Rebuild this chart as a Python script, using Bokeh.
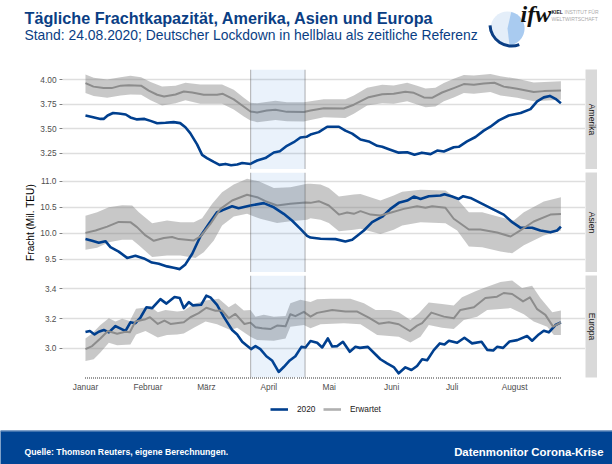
from bokeh.embed import file_html
from bokeh.resources import INLINE
from bokeh.plotting import figure
from bokeh.layouts import column, row
from bokeh.models import (Range1d, FixedTicker, BoxAnnotation, Span, Label, Legend, LegendItem)
import math

# ---------- axis content ----------
month_days = [0, 31, 60, 91, 121, 152, 182, 213]
month_labels = ["Januar", "Februar", "März", "April", "Mai", "Juni", "Juli", "August"]
all_days = list(range(0, 237))
lockdown = [82, 109]
regions = ["Amerika", "Asien", "Europa"]
legend_labels = ["2020", "Erwartet"]
am_ticks = [3.25, 3.5, 3.75, 4.0]
as_ticks = [9.5, 10.0, 10.5, 11.0]
eu_ticks = [3.0, 3.2, 3.4]

# ---------- Amerika ----------
am_d = [0,3.3,7.4,9,11,13.7,16.5,20,22.3,25.6,29.3,32.3,35.6,39.7,43.8,47,49.6,52,55.4,57.9,60.3,63.7,66.5,69.5,72.3,75.3,77.8,81.9,85.2,89.3,93.5,96.5,100,103.4,106.7,109.7,111.7,115.8,120,125.8,129,132.4,136.5,140.6,144.8,147.3,150.6,155.5,159.7,163.3,167,171.3,174.6,177.9,182.8,185.3,189.4,193.6,197.7,201,205.2,210.1,216,220.9,224.2,227.5,230.5,233.3,236]
am_v = [3.635,3.62,3.60,3.60,3.635,3.66,3.655,3.645,3.615,3.595,3.60,3.58,3.555,3.56,3.567,3.557,3.515,3.455,3.34,3.233,3.20,3.16,3.13,3.14,3.127,3.134,3.15,3.14,3.175,3.20,3.257,3.27,3.325,3.362,3.41,3.417,3.44,3.465,3.52,3.52,3.48,3.45,3.39,3.37,3.325,3.315,3.29,3.255,3.26,3.233,3.255,3.24,3.277,3.267,3.31,3.315,3.37,3.415,3.48,3.52,3.585,3.635,3.66,3.70,3.78,3.82,3.835,3.805,3.76]
am_ed = [0,4,9,13,17.5,21.5,27.6,31.4,35.6,39,44.7,48.8,53,58.7,65.3,68.2,73.6,77.8,81.9,85.2,90,94.3,100,108.4,111.7,118.3,128.2,133.2,140.6,147.3,153,158.8,163,168,172,177,182.8,187.8,192.8,197.7,203,207.6,214.3,222.5,227.5,236]
am_ev = [3.966,3.93,3.915,3.915,3.94,3.945,3.94,3.89,3.847,3.83,3.85,3.88,3.87,3.847,3.847,3.857,3.80,3.737,3.676,3.666,3.686,3.693,3.672,3.67,3.686,3.71,3.707,3.745,3.822,3.853,3.857,3.877,3.867,3.82,3.816,3.87,3.915,3.956,3.95,3.962,3.97,3.93,3.908,3.874,3.884,3.89]
am_bd = [0,4.1,10.8,17.4,22.3,27.6,32.3,38,44.7,49.6,57,67.8,73.6,78.6,81.9,85.2,94.3,100,108.4,111.7,118.3,129,133.2,139.8,147.3,153,159.7,164.6,168.8,173.7,177.9,182.8,187.8,192.8,201,206,214.3,222.5,236]
am_hi = [4.055,4.02,4.003,4.027,4.04,4.027,3.976,3.93,3.94,3.97,3.952,3.952,3.898,3.816,3.765,3.76,3.785,3.77,3.77,3.78,3.80,3.80,3.84,3.918,3.95,3.942,3.97,3.94,3.91,3.918,3.966,4.01,4.05,4.044,4.06,4.037,4.01,3.973,3.986]
am_lo = [3.864,3.833,3.816,3.84,3.85,3.847,3.79,3.737,3.76,3.79,3.755,3.755,3.697,3.625,3.584,3.567,3.59,3.577,3.574,3.59,3.618,3.61,3.652,3.737,3.76,3.755,3.78,3.748,3.72,3.727,3.78,3.82,3.864,3.857,3.874,3.84,3.816,3.78,3.795]

# ---------- Asien ----------
as_d = [0,3.3,6.6,9.9,12.4,16.5,20.7,24.8,29,33,36.4,40.5,43.8,46.8,49.6,53,57,61.2,65.3,67.8,72.8,76,81.9,88.5,93.5,98.4,102.5,106.7,110,111.7,116.7,124.1,129,132.4,138.2,142.3,147.3,151.4,155.5,159.7,163,166.3,170.4,176.2,178.2,182,185.3,187.5,191.1,196,201.9,207.6,211.8,216,221.7,225.8,230.8,234.1,236]
as_v = [9.89,9.857,9.82,9.85,9.735,9.65,9.53,9.57,9.52,9.44,9.417,9.367,9.34,9.315,9.405,9.61,9.94,10.18,10.406,10.44,10.52,10.483,10.534,10.58,10.50,10.375,10.247,10.087,9.953,9.92,9.896,9.89,9.845,9.877,10.055,10.215,10.32,10.47,10.585,10.63,10.706,10.66,10.713,10.726,10.75,10.706,10.66,10.713,10.68,10.585,10.47,10.36,10.215,10.107,10.107,10.055,10.02,10.055,10.13]
as_ed = [0,5,10.8,16.5,22.3,25.6,29.8,33.9,38.9,43,46.3,53.8,57,62,67,72.8,80.2,85.2,89.3,95.1,101.7,109.2,111.7,115.8,120.8,125.8,129.9,133.2,136.5,141.5,146.4,152.2,158,164.6,168.8,172.1,178.7,182.8,190.3,196,204.3,211,215.1,222.5,230.8,236]
as_ev = [10.01,10.055,10.13,10.22,10.215,10.12,9.96,9.857,9.91,9.93,9.89,9.864,9.94,10.18,10.47,10.63,10.74,10.694,10.617,10.534,10.566,10.59,10.585,10.617,10.534,10.36,10.4,10.375,10.426,10.36,10.343,10.406,10.47,10.52,10.49,10.52,10.49,10.28,10.075,10.075,10.017,9.94,10.04,10.228,10.36,10.37]
as_hd = [0,5.8,11.6,18.2,23.2,26.5,33.1,40.5,47.1,53.8,57.9,62.9,67.8,73.6,80.2,86,93.5,101.7,110,111.7,116.7,120.8,125.8,133.2,136.5,146.4,153,157.2,166.3,178.7,184.5,190.3,196.9,206,212.6,217.6,227.5,236]
as_hi = [10.336,10.406,10.50,10.54,10.534,10.406,10.196,10.247,10.215,10.215,10.29,10.566,10.79,10.936,11.045,11.0,10.87,10.885,10.95,10.95,10.936,10.87,10.706,10.745,10.757,10.63,10.726,10.80,10.834,10.82,10.66,10.406,10.406,10.31,10.247,10.406,10.61,10.694]
as_ld = [0,5.8,11.6,18.2,23.2,26.5,33.1,40.5,47.1,54.6,58.7,63.7,67.8,73.6,80.2,86.8,95.1,101.7,110,111.7,116.7,120.8,125.8,133.2,136.5,146.4,153,157.2,166.3,178.7,184.5,190.3,196.9,206,211.8,217.6,227.5,236]
as_lo = [9.685,9.724,9.83,9.877,9.877,9.77,9.545,9.577,9.577,9.53,9.64,9.864,10.15,10.324,10.375,10.28,10.2,10.234,10.26,10.29,10.26,10.2,10.04,10.07,10.087,9.99,10.07,10.15,10.215,10.196,10.055,9.75,9.736,9.653,9.62,9.77,9.96,10.055]

# ---------- Europa ----------
eu_d = [0,2.2,4.5,6.6,9.1,11.6,14.9,18.2,19.9,22.3,24.8,27.3,30.3,33.1,37.2,40.2,44.2,46.8,48.8,51.3,53.4,57.4,60,62,65.3,68.6,72.8,75.3,77.8,80.2,82.2,84.4,86.8,89.8,92.6,95.9,98.4,101.4,104.2,107.2,109.2,111.7,115,117.5,120.3,122.5,125,127.8,131.2,134,136.2,140.2,144,146.4,149.7,153,155.5,158.8,161.8,164.6,167.1,169.6,172.9,175.9,178.2,180.4,184.5,188.1,191.9,196.6,199.4,202.4,204.3,207.3,210.5,214.3,219.2,221.7,225,227.5,230,233.3,236]
eu_v = [3.11,3.117,3.094,3.112,3.124,3.108,3.15,3.128,3.117,3.175,3.169,3.207,3.276,3.27,3.33,3.30,3.344,3.337,3.27,3.31,3.288,3.292,3.353,3.342,3.292,3.213,3.124,3.094,3.045,3.018,2.996,3.016,2.996,2.948,2.92,2.843,2.876,2.92,2.948,3.011,3.007,3.05,3.038,3.007,3.067,3.013,3.016,3.045,2.978,3.011,3.004,3.011,2.96,2.928,2.9,2.876,2.834,2.874,2.856,2.883,2.928,2.921,2.989,3.034,3.027,3.052,3.038,3.072,3.034,3.045,2.991,2.987,3.011,3.004,3.047,3.056,3.083,3.052,3.094,3.119,3.108,3.157,3.175]
eu_ed = [0,3.3,7.4,11.1,15.7,19.9,22,24.8,29.8,32,35.9,39.2,42.2,48.8,52.1,56.2,60,64.5,67.8,71.1,74.4,78.9,81.9,84.4,87.7,91.8,95.1,99.3,101.7,104.2,108.4,111.7,115,122.5,129,134.9,140.6,145.6,150.6,155.5,161,164.6,167.1,171.7,177.9,182.8,186.1,192.8,198.5,204.3,207.6,211.8,217.2,220.6,224.2,228.3,232.1,236]
eu_ev = [2.996,3.016,3.067,3.117,3.099,3.112,3.108,3.18,3.196,3.209,3.164,3.187,3.164,3.175,3.209,3.236,3.272,3.252,3.254,3.202,3.231,3.164,3.173,3.142,3.135,3.13,3.153,3.148,3.229,3.216,3.245,3.213,3.238,3.258,3.247,3.247,3.207,3.166,3.175,3.162,3.117,3.153,3.169,3.24,3.213,3.202,3.258,3.276,3.337,3.346,3.371,3.364,3.315,3.342,3.263,3.225,3.146,3.175]
eu_hd = [0,3.3,7.4,11.6,14.9,18.2,22,25.1,29.8,32.3,35.9,39.7,45.5,48.8,53.8,59.6,66.2,71.1,74.4,78.6,81.9,84.4,88.5,93.5,99.3,101.7,106.7,111.7,115,121.6,131.5,138.2,144,151.4,155.5,161.3,165.5,170.4,177,182.8,186.9,193.6,197.7,206,211.8,216.7,221.7,225.8,231.7,236]
eu_hi = [3.067,3.10,3.157,3.202,3.18,3.198,3.184,3.265,3.274,3.281,3.243,3.258,3.247,3.252,3.297,3.321,3.333,3.276,3.303,3.254,3.258,3.213,3.225,3.213,3.218,3.303,3.326,3.31,3.33,3.333,3.333,3.303,3.258,3.258,3.243,3.191,3.236,3.308,3.297,3.288,3.342,3.382,3.404,3.445,3.454,3.404,3.42,3.337,3.243,3.254]
eu_ld = [0,4.1,7.4,11.6,15.7,22.3,25.1,29.8,35.9,40.5,45.5,48.8,53.8,59.6,65.3,71.9,75.3,81.9,85.2,93.5,99.3,101.7,108.4,111.7,116.7,128.3,136.5,144.8,155.5,161.3,166.3,170.4,177,182.8,187.8,194.4,199.4,211,217.6,222.5,229.2,232.5,236]
eu_lo = [2.917,2.928,2.973,3.038,3.022,3.027,3.094,3.117,3.074,3.09,3.094,3.101,3.139,3.18,3.162,3.124,3.139,3.079,3.056,3.052,3.067,3.146,3.157,3.135,3.162,3.169,3.162,3.09,3.079,3.04,3.079,3.157,3.139,3.13,3.191,3.213,3.258,3.27,3.229,3.18,3.146,3.09,3.09]

FONT = "Liberation Sans"
NAVY = "#003F8E"
GREY = "#8C8C8C"
STRIP = "#D9D9D9"
x_span = (-11.4, 248.2)


def panel(y_span, ticks, fmt, days, vals, e_days, e_vals, hi_days, hi, lo_days, lo, frame_h, bottom=0):
    p = figure(width=585, height=3 + frame_h + bottom, output_backend="svg", toolbar_location=None,
               x_range=Range1d(*x_span), y_range=Range1d(*y_span),
               min_border_left=62, min_border_right=0, min_border_top=3, min_border_bottom=bottom)
    p.outline_line_color = None
    p.xgrid.visible = False
    p.ygrid.ticker = FixedTicker(ticks=ticks)
    p.ygrid.grid_line_color = "#DEDEDE"
    p.ygrid.grid_line_width = 1.5
    p.patch(list(hi_days) + list(lo_days)[::-1], list(hi) + list(lo)[::-1],
            fill_color="#808080", fill_alpha=0.43, line_color=None)
    p.line(days, vals, line_color=NAVY, line_width=2.6, line_join="round")
    p.line(e_days, e_vals, line_color=GREY, line_width=2, line_join="round")
    p.add_layout(BoxAnnotation(left=lockdown[0], right=lockdown[1], fill_color="#1973D7", fill_alpha=0.09, line_alpha=0))
    for d in lockdown:
        p.add_layout(Span(location=d, dimension="height", line_color="#555555", line_alpha=0.45, line_width=1))
    ax = p.yaxis[0]
    ax.ticker = FixedTicker(ticks=ticks)
    ax.major_label_overrides = {t: format(t, fmt) for t in ticks}
    ax.axis_line_color = None
    ax.major_tick_line_color = "#7F7F7F"
    ax.major_tick_in = 0
    ax.major_tick_out = 3
    ax.minor_tick_line_color = None
    ax.major_label_text_font = FONT
    ax.major_label_text_font_size = "8.3px"
    ax.major_label_text_color = "#4D4D4D"
    ax.major_label_standoff = 3
    p.xaxis.visible = False
    return p


def strip(text, frame_h, bottom=0):
    s = figure(width=12, height=3 + frame_h + bottom, output_backend="svg", toolbar_location=None,
               x_range=Range1d(0, 1), y_range=Range1d(0, 1), x_axis_type=None, y_axis_type=None,
               min_border_left=0, min_border_right=0, min_border_top=3, min_border_bottom=bottom,
               background_fill_color=STRIP)
    s.outline_line_color = None
    s.grid.visible = False
    s.text([0.5], [0.5], text=[text], angle=-math.pi / 2, text_align="center", text_baseline="middle",
           text_font={"value": FONT}, text_font_size={"value": "8.6px"}, text_color="#1A1A1A")
    return s


p1 = panel((3.083, 4.105), am_ticks, ".2f", am_d, am_v, am_ed, am_ev, am_bd, am_hi, am_bd, am_lo, 100)
p2 = panel((9.25, 11.167), as_ticks, ".1f", as_d, as_v, as_ed, as_ev, as_hd, as_hi, as_ld, as_lo, 100)
p2.yaxis[0].axis_label = "Fracht (Mil. TEU)"
p2.yaxis[0].axis_label_text_font = FONT
p2.yaxis[0].axis_label_text_font_style = "normal"
p2.yaxis[0].axis_label_text_font_size = "10.1px"
p2.yaxis[0].axis_label_text_color = "#000000"
p2.yaxis[0].axis_label_standoff = 1

p3 = panel((2.806, 3.488), eu_ticks, ".1f", eu_d, eu_v, eu_ed, eu_ev, eu_hd, eu_hi, eu_ld, eu_lo, 102, bottom=22)
p3.xaxis.visible = True
xa = p3.xaxis[0]
xa.ticker = FixedTicker(ticks=month_days, minor_ticks=all_days)
xa.major_label_overrides = dict(zip(month_days, month_labels))
xa.axis_line_color = None
xa.major_tick_line_color = None
xa.major_tick_in = 0
xa.major_tick_out = 0
xa.minor_tick_line_color = "#333333"
xa.minor_tick_in = 0
xa.minor_tick_out = 1
xa.major_label_text_font = FONT
xa.major_label_text_font_size = "8.3px"
xa.major_label_text_color = "#4D4D4D"
xa.major_label_standoff = 3

# ---------- legend ----------
lg = figure(width=612, height=31, output_backend="svg", toolbar_location=None,
            x_range=Range1d(0, 1), y_range=Range1d(0, 1), x_axis_type=None, y_axis_type=None, min_border=0)
lg.outline_line_color = None
lg.grid.visible = False
# keys only: their data lies outside this strip's range, so just the legend shows them
k20 = lg.line([2, 3], [2, 2], line_color=NAVY, line_width=2.6)
kex = lg.line([2, 3], [2, 2], line_color="#B0B0B0", line_width=2.6)
leg = Legend(items=[LegendItem(label=legend_labels[0], renderers=[k20]), LegendItem(label=legend_labels[1], renderers=[kex])],
             orientation="horizontal", location=(270, 16), border_line_color=None, background_fill_alpha=0,
             label_text_font=FONT, label_text_font_size="8.3px", label_text_color="#1A1A1A",
             glyph_width=18, glyph_height=8, label_standoff=9, spacing=6, margin=0, padding=2)
lg.add_layout(leg)

# ---------- header ----------
h = figure(width=612, height=66, output_backend="svg", toolbar_location=None,
           x_range=Range1d(0, 612), y_range=Range1d(66, 0), x_axis_type=None, y_axis_type=None,
           min_border=0)
h.outline_line_color = None
h.grid.visible = False
h.add_layout(Label(x=24, y=17, text="Tägliche Frachtkapazität, Amerika, Asien und Europa", text_font=FONT,
                   text_font_style="bold", text_font_size="16.2px", text_color="#0A3E84", text_baseline="middle"))
h.add_layout(Label(x=24, y=34.5, text="Stand: 24.08.2020; Deutscher Lockdown in hellblau als zeitliche Referenz",
                   text_font=FONT, text_font_size="13.9px", text_color="#0A3E84", text_baseline="middle"))
# logo
h.circle([507], [28], radius=17, fill_color="#E4EEF9", line_color=None)
h.wedge([507], [28], radius=17, start_angle=-1.45, end_angle=1.35, direction="anticlock", fill_color="#A9CBF0", line_color=None)
h.annular_wedge([511], [24], inner_radius=20, outer_radius=23, start_angle=-3.1, end_angle=-1.2, direction="anticlock",
                fill_color="#0A3E84", line_color=None)
h.add_layout(Label(x=520, y=13, text="ifw", text_font="Liberation Serif", text_font_style="bold italic",
                   text_font_size="24px", text_color="#111111", text_baseline="middle"))
h.add_layout(Label(x=551, y=11, text="KIEL", text_font=FONT, text_font_style="bold", text_font_size="5px",
                   text_color="#222222", text_baseline="middle"))
h.add_layout(Label(x=564, y=11, text="INSTITUT FÜR", text_font=FONT, text_font_size="5px",
                   text_color="#AAAAAA", text_baseline="middle"))
h.add_layout(Label(x=551, y=18, text="WELTWIRTSCHAFT", text_font=FONT, text_font_size="5px",
                   text_color="#AAAAAA", text_baseline="middle"))

# ---------- footer ----------
f = figure(width=612, height=34, output_backend="svg", toolbar_location=None,
           x_range=Range1d(0, 612), y_range=Range1d(34, 0), x_axis_type=None, y_axis_type=None,
           min_border=0, background_fill_color="#004494", border_fill_color="#004494")
f.outline_line_color = None
f.grid.visible = False
f.add_layout(Span(location=0.5, dimension="width", line_color="#7F9FC8", line_width=1))
f.add_layout(Label(x=24, y=21, text="Quelle: Thomson Reuters, eigene Berechnungen.", text_font=FONT,
                   text_font_style="bold", text_font_size="8.7px", text_color="white", text_baseline="middle"))
f.add_layout(Label(x=603, y=21, text="Datenmonitor Corona-Krise", text_font=FONT, text_align="right",
                   text_font_style="bold", text_font_size="11.4px", text_color="white", text_baseline="middle"))

layout = column(h,
                row(p1, strip(regions[0], 100), spacing=0),
                row(p2, strip(regions[1], 100), spacing=0),
                row(p3, strip(regions[2], 102, bottom=22), spacing=0),
                lg, f, spacing=0)

open("out.html", "w").write(file_html(layout, INLINE))
